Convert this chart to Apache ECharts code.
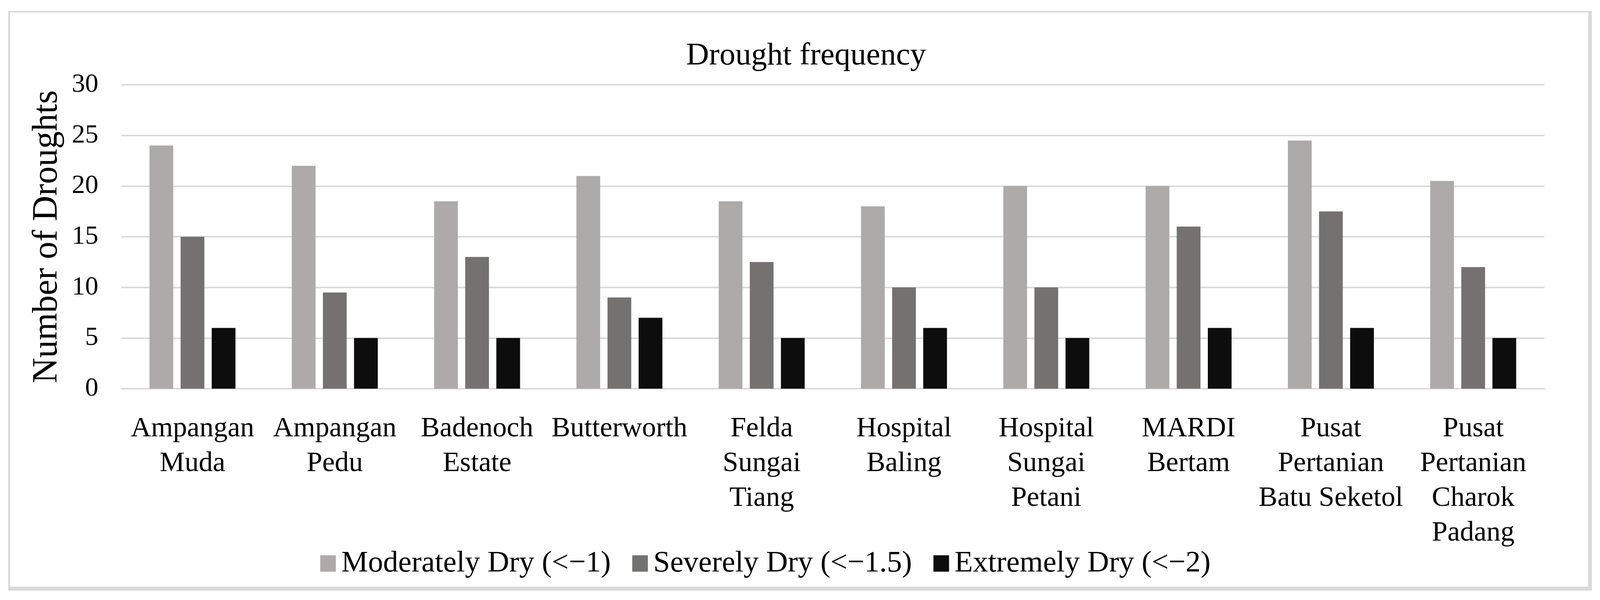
<!DOCTYPE html>
<html>
<head>
<meta charset="utf-8">
<script src="https://cdn.jsdelivr.net/npm/echarts@6/dist/echarts.min.js"></script>
<style>
  html, body { margin: 0; padding: 0; background: #ffffff; overflow: hidden; }
  #chart { width: 100vw; height: 1536px; }
</style>
</head>
<body>
<div id="chart"></div>
<script>
// ---- data ----
const categories = [
  'Ampangan\nMuda',
  'Ampangan\nPedu',
  'Badenoch\nEstate',
  'Butterworth',
  'Felda\nSungai\nTiang',
  'Hospital\nBaling',
  'Hospital\nSungai\nPetani',
  'MARDI\nBertam',
  'Pusat\nPertanian\nBatu Seketol',
  'Pusat\nPertanian\nCharok\nPadang'
];
const seriesNames = [
  'Moderately Dry (<\u22121)',
  'Severely Dry (<\u22121.5)',
  'Extremely Dry (<\u22122)'
];
const moderatelyDry = [24, 22, 18.5, 21, 18.5, 18, 20, 20, 24.5, 20.5];
const severelyDry   = [15, 9.5, 13, 9, 12.5, 10, 10, 16, 17.5, 12];
const extremelyDry  = [6, 5, 5, 7, 5, 6, 5, 6, 6, 5];
const yMin = 0, yMax = 30, yInterval = 5;
const titleText = 'Drought frequency';
const yAxisName = 'Number of Droughts';

// ---- style / layout (designed for a 4312 px wide page, scaled horizontally to the real width) ----
const colors = ['#aeaaaa', '#767171', '#0d0d0d'];
const serif = '"Liberation Serif", "Times New Roman", serif';
const gridColor = '#d9d9d9';

const el = document.getElementById('chart');
const W = el.clientWidth || 4312;
const sx = W / 4312;            // horizontal scale
const fs = (v) => Math.round(v * (0.5 + 0.5 * sx));   // font compromise

const chart = echarts.init(el, null, { renderer: 'canvas' });

const option = {
  backgroundColor: '#ffffff',
  animation: false,
  graphic: [
    { type: 'rect', z: -10, silent: true,
      shape: { x: 22 * sx, y: 28, width: 4268 * sx, height: 1484 },
      style: { fill: gridColor } },
    { type: 'rect', z: -9, silent: true,
      shape: { x: 27 * sx, y: 32, width: 4253 * sx, height: 1470 },
      style: { fill: '#ffffff' } }
  ],
  title: {
    text: titleText,
    left: 2167 * sx,
    top: 98,
    textAlign: 'center',
    textStyle: { fontFamily: serif, fontSize: fs(83), fontWeight: 'normal', color: '#000000' }
  },
  legend: {
    data: seriesNames,
    left: 863 * sx,
    top: 1404,
    padding: 0,
    itemWidth: Math.round(42 * sx),
    itemHeight: 42,
    itemGap: Math.round(58 * sx),
    icon: 'rect',
    textStyle: { fontFamily: serif, fontSize: fs(79), color: '#000000', padding: [0, 0, 0, Math.round(14 * sx - 4)] }
  },
  grid: {
    left: 327 * sx,
    right: 150 * sx,
    top: 217,
    bottom: 541,
    containLabel: false,
    outerBoundsMode: 'none'
  },
  xAxis: {
    type: 'category',
    data: categories,
    axisLine: { show: true, lineStyle: { color: gridColor, width: 4 } },
    axisTick: { show: false },
    axisLabel: {
      interval: 0,
      fontFamily: serif,
      fontSize: fs(74),
      lineHeight: 89,
      color: '#000000',
      margin: 59,
      verticalAlign: 'top'
    }
  },
  yAxis: {
    type: 'value',
    min: yMin,
    max: yMax,
    interval: yInterval,
    name: yAxisName,
    nameLocation: 'middle',
    nameRotate: 90,
    nameGap: 152 * sx,
    nameTextStyle: { fontFamily: serif, fontSize: 90, color: '#000000' },
    axisLine: { show: false },
    axisTick: { show: false },
    splitLine: { show: true, lineStyle: { color: gridColor, width: 4 } },
    axisLabel: { fontFamily: serif, fontSize: fs(70), color: '#000000', margin: 62 * sx }
  },
  series: [
    { name: seriesNames[0], type: 'bar', data: moderatelyDry, barWidth: 64 * sx, barGap: '31%',
      itemStyle: { color: colors[0] } },
    { name: seriesNames[1], type: 'bar', data: severelyDry, barWidth: 64 * sx, barGap: '31%',
      itemStyle: { color: colors[1] } },
    { name: seriesNames[2], type: 'bar', data: extremelyDry, barWidth: 64 * sx, barGap: '31%',
      itemStyle: { color: colors[2] } }
  ]
};
chart.setOption(option);
</script>
</body>
</html>
